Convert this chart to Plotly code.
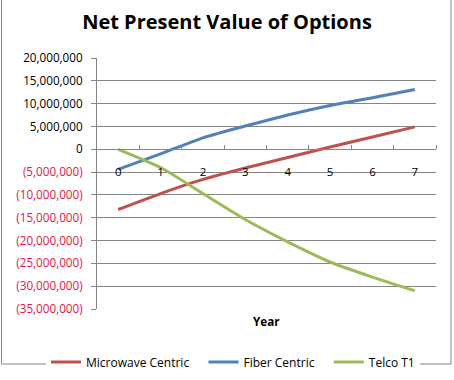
import plotly.graph_objects as go

years = [0, 1, 2, 3, 4, 5, 6, 7]
microwave = [-13.2e6, -9.7e6, -6.6e6, -4.1e6, -1.8e6, 0.5e6, 2.7e6, 4.9e6]
fiber = [-4.4e6, -1.0e6, 2.5e6, 5.1e6, 7.5e6, 9.6e6, 11.3e6, 13.1e6]
telco = [0.0, -4.0e6, -9.7e6, -15.4e6, -20.3e6, -24.7e6, -28.0e6, -31.0e6]
series_names = ["Microwave Centric", "Fiber Centric", "Telco T1"]
colors = ["#C0504D", "#4F81BD", "#9BBB59"]
y_ticks = list(range(-35000000, 20000001, 5000000))

W, H = 454, 380
L, R, T, B = 97, 18, 58, 71
pw, ph = W - L - R, H - T - B

def fmt(v):
    if v < 0:
        return '<span style="color:#E4173F">(' + f"{-v:,}" + ')</span>'
    return f"{v:,}"

pad = "\u00a0" * 3
fig = go.Figure()
for i, (name, vals, c) in enumerate(zip(series_names, [microwave, fiber, telco], colors)):
    label = name + (pad if i < len(series_names) - 1 else "")
    fig.add_trace(go.Scatter(x=years, y=vals, name=label, mode="lines",
                             line=dict(color=c, width=3, shape="spline", smoothing=0.6)))

zero_pos = (0 - (-35e6)) / 55e6

fig.update_layout(
    width=W, height=H,
    margin=dict(l=L, r=R, t=T, b=B, autoexpand=False),
    paper_bgcolor="white", plot_bgcolor="white",
    font=dict(family="Open Sans", size=11.7, color="#000000"),
    title=dict(text="<b>Net Present Value of Options</b>", x=0.5, xanchor="center",
               xref="container", yref="container", y=1 - 22 / H, yanchor="middle",
               font=dict(size=20, family="Open Sans", color="#000000")),
    showlegend=True,
    legend=dict(orientation="h", x=(46 - L) / pw, xanchor="left", y=(309 - 362) / ph,
                yanchor="middle", font=dict(size=12), traceorder="normal"),
    xaxis=dict(range=[-0.5, 7.5], tickvals=years, ticktext=[str(y) for y in years],
               showgrid=False, zeroline=False, showline=True, linecolor="#868686",
               linewidth=1, anchor="free", position=zero_pos, ticks="",
               ticklabelstandoff=12,
               minor=dict(tickvals=[0.5, 1.5, 2.5, 3.5, 4.5, 5.5, 6.5, 7.5],
                          ticks="inside", ticklen=4, tickcolor="#868686", showgrid=False),
               tickfont=dict(size=11.5), fixedrange=True),
    yaxis=dict(range=[-35e6, 20e6], tickvals=y_ticks, ticktext=[fmt(v) for v in y_ticks],
               showgrid=True, gridcolor="#868686", gridwidth=1, zeroline=False,
               showline=True, linecolor="#868686", ticks="outside", ticklen=5,
               ticklabelstandoff=6,
               tickcolor="#868686", tickfont=dict(size=11.7), fixedrange=True),
)

fig.add_annotation(text="<b>Year</b>", xref="paper", yref="paper",
                   x=0.5, y=(309 - 321) / ph, showarrow=False,
                   font=dict(size=11.7), xanchor="center", yanchor="middle")

fig.add_shape(type="rect", xref="paper", yref="paper",
              x0=(1.5 - L) / pw, x1=(451 - L) / pw,
              y0=(H - T - 377) / ph, y1=(H - T - 1.5) / ph,
              line=dict(color="#868686", width=1), layer="below")

fig.write_html("out.html", config={"displayModeBar": False},
               post_script="document.body.style.margin='0';")
